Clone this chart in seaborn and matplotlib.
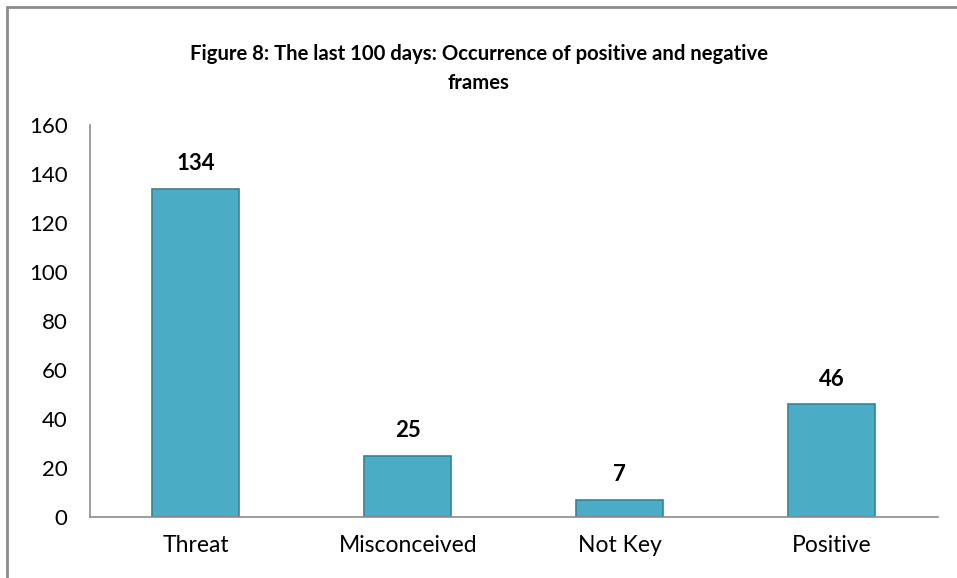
import numpy as np
import pandas as pd
import matplotlib
matplotlib.use('Agg')
import matplotlib.pyplot as plt
import seaborn as sns
from matplotlib.lines import Line2D

# data
categories = ['Threat', 'Misconceived', 'Not Key', 'Positive']
counts = [134, 25, 7, 46]
title = 'Figure 8: The last 100 days: Occurrence of positive and negative\nframes'

sns.set_style('white')
plt.rcParams['font.family'] = ['Lato', 'DejaVu Sans']
plt.rcParams['text.color'] = 'black'
plt.rcParams['xtick.labelcolor'] = 'black'
plt.rcParams['ytick.labelcolor'] = 'black'

df = pd.DataFrame({'category': categories, 'count': counts})

fig = plt.figure(figsize=(9.57, 5.78), dpi=100)
ax = fig.add_axes([0.094, 0.1055, 0.886, 0.678])

sns.barplot(data=df, x='category', y='count', color='#4BACC6', saturation=1,
            width=0.41, edgecolor='#3A8296', linewidth=1.2, ax=ax)

for i, v in enumerate(counts):
    ax.text(i, v + 6, str(v), ha='center', va='bottom', fontsize=16, fontweight='bold')

ax.set_ylim(0, 160)
ax.set_yticks(np.arange(0, 161, 20))
ax.set_xlim(-0.5, len(categories) - 0.5)
ax.set_xlabel('')
ax.set_ylabel('')

# x tick marks sit between the categories
ax.set_xticks(np.arange(-0.5, len(categories), 1), minor=True)
ax.tick_params(axis='x', which='major', length=0, pad=13, labelsize=16.5, labelcolor='black')
ax.tick_params(axis='x', which='minor', length=6, width=1.2, color='#8c8c8c', direction='out')
ax.tick_params(axis='y', length=6, width=1.2, color='#8c8c8c', direction='out', pad=10,
               labelsize=16, labelcolor='black')

for s in ['top', 'right']:
    ax.spines[s].set_visible(False)
for s in ['left', 'bottom']:
    ax.spines[s].set_color('#8c8c8c')
    ax.spines[s].set_linewidth(1.2)

fig.text(0.5, 0.882, title, ha='center', va='center', fontsize=14.6,
         fontweight='bold', linespacing=1.55, color='black')

# chart-area border (top and left visible)
fig.add_artist(Line2D([0.0073, 1.0], [0.9879, 0.9879], color='#8c8c8c', lw=2))
fig.add_artist(Line2D([0.0073, 0.0073], [0.0, 0.9879], color='#8c8c8c', lw=2))

fig.savefig('out.png', dpi=100)
